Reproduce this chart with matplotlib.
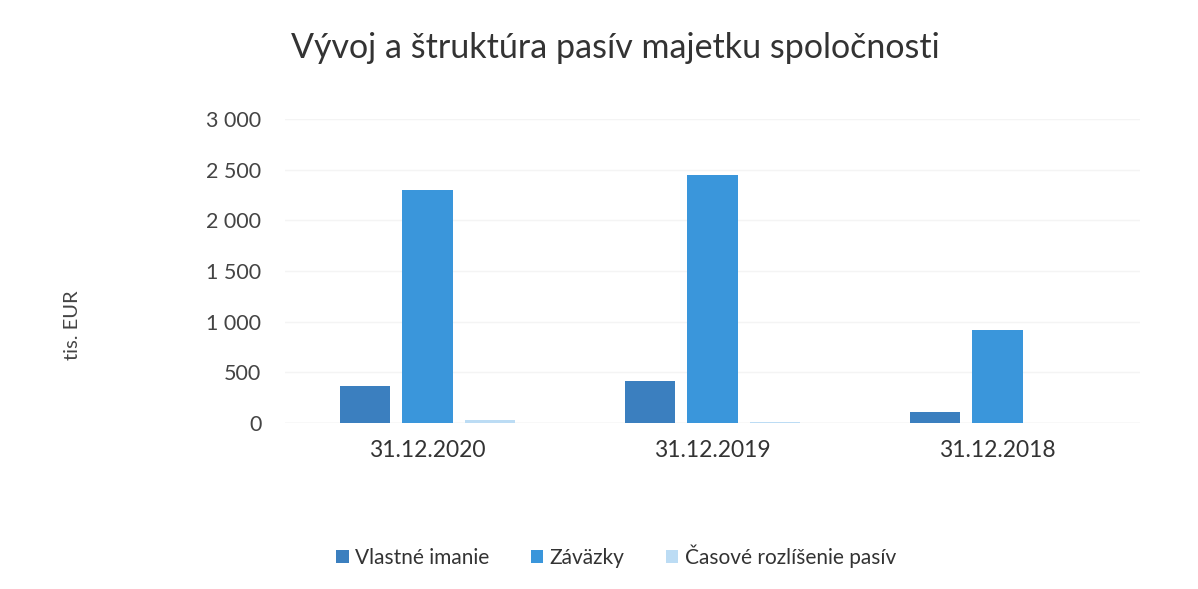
import matplotlib
matplotlib.use("Agg")
import matplotlib.pyplot as plt
import numpy as np

categories = ["31.12.2020", "31.12.2019", "31.12.2018"]
series_names = ["Vlastné imanie", "Záväzky", "Časové rozlíšenie pasív"]
vlastne = [365, 415, 110]
zavazky = [2300, 2450, 918]
casove = [30, 5, 2]
yticks = [0, 500, 1000, 1500, 2000, 2500, 3000]
ytick_labels = ["0", "500", "1 000", "1 500", "2 000", "2 500", "3 000"]
colors = ["#3b7fbf", "#3a96db", "#bcdcf4"]

plt.rcParams['font.family'] = ['Lato', 'DejaVu Sans']

W, H = 1198, 589
fig = plt.figure(figsize=(W/100, H/100), dpi=100)
ax = fig.add_axes([285/W, 1-423/H, (1140-285)/W, (423-119)/H])

x = np.arange(len(categories))
bw = 0.176
step = 0.22
for i, (vals, c, n) in enumerate(zip([vlastne, zavazky, casove], colors, series_names)):
    ax.bar(x + (i-1)*step, vals, width=bw, color=c, label=n, zorder=3)

ax.set_xlim(-0.5, 2.5)
ax.set_ylim(0, 3000)
ax.set_yticks(yticks)
ax.set_yticklabels(ytick_labels, fontsize=15.5, color="#444444")
ax.set_xticks(x)
ax.set_xticklabels(categories, fontsize=16.5, color="#333333")
ax.tick_params(axis='x', length=0, pad=12)
ax.tick_params(axis='y', length=0, pad=17)
ax.grid(axis='y', color="#f4f4f4", linewidth=1, zorder=0)
for s in ax.spines.values():
    s.set_visible(False)
ax.axhline(0, color="#e8e8e8", linewidth=1, zorder=2)

fig.text(615/W, 1-48/H, "Vývoj a štruktúra pasív majetku spoločnosti", ha='center', va='center', fontsize=24.5, color="#333333")
fig.text(72/W, 1-325/H, "tis. EUR", rotation=90, ha='center', va='center', fontsize=14.5, color="#444444")

fig.legend(loc='center', bbox_to_anchor=(616/W, 1-556/H), ncol=3, frameon=False, fontsize=15,
           handlelength=0.6, handleheight=0.6, handletextpad=0.3, columnspacing=2.0, labelcolor="#333333")

fig.savefig("out.png", dpi=100, facecolor="white")
